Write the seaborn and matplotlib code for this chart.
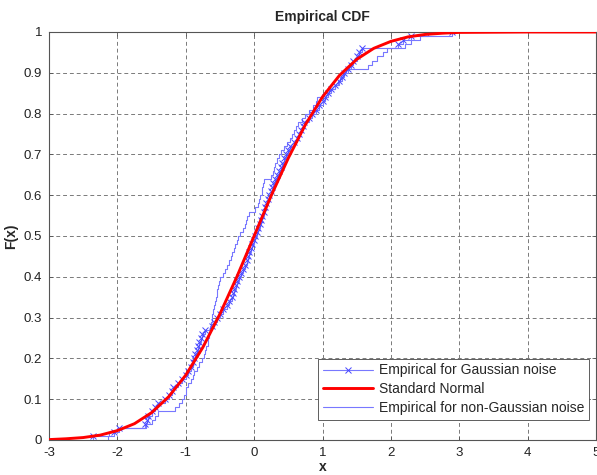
import numpy as np
import pandas as pd
import seaborn as sns
import matplotlib
matplotlib.use("Agg")
import matplotlib.pyplot as plt

# ---- data ----
gaussian_sample = [
    -2.35, -2.05, -1.98, -1.60, -1.57, -1.55, -1.50, -1.45, -1.40, -1.30,
    -1.25, -1.20, -1.18, -1.12, -1.05, -1.00, -0.97, -0.92, -0.90, -0.88,
    -0.86, -0.84, -0.82, -0.80, -0.78, -0.76, -0.72, -0.62, -0.58, -0.55,
    -0.50, -0.45, -0.40, -0.37, -0.33, -0.31, -0.29, -0.27, -0.25, -0.22,
    -0.19, -0.16, -0.13, -0.11, -0.09, -0.07, -0.05, -0.03, 0.00, 0.02,
    0.04, 0.06, 0.08, 0.10, 0.12, 0.14, 0.16, 0.18, 0.20, 0.22,
    0.24, 0.26, 0.28, 0.30, 0.33, 0.36, 0.39, 0.41, 0.44, 0.47,
    0.50, 0.53, 0.58, 0.62, 0.66, 0.69, 0.71, 0.73, 0.80, 0.85,
    0.90, 0.95, 1.00, 1.03, 1.08, 1.12, 1.18, 1.24, 1.28, 1.32,
    1.38, 1.42, 1.45, 1.50, 1.53, 1.58, 2.10, 2.18, 2.30, 2.90,
]

non_gaussian_sample = [
    -2.13, -2.12, -2.00, -1.58, -1.50, -1.45, -1.40, -1.15, -1.10, -1.06,
    -1.03, -1.00, -0.99, -0.96, -0.93, -0.90, -0.88, -0.84, -0.80, -0.76,
    -0.74, -0.72, -0.70, -0.68, -0.67, -0.66, -0.65, -0.64, -0.63, -0.62,
    -0.61, -0.60, -0.58, -0.57, -0.56, -0.55, -0.54, -0.53, -0.52, -0.50,
    -0.46, -0.43, -0.40, -0.37, -0.34, -0.32, -0.30, -0.28, -0.25, -0.23,
    -0.20, -0.17, -0.14, -0.12, -0.10, -0.07, 0.02, 0.05, 0.07, 0.09,
    0.11, 0.12, 0.13, 0.14, 0.25, 0.27, 0.29, 0.31, 0.33, 0.36,
    0.40, 0.44, 0.48, 0.52, 0.55, 0.58, 0.61, 0.64, 0.70, 0.75,
    0.80, 0.86, 0.90, 0.92, 1.00, 1.10, 1.18, 1.22, 1.26, 1.30,
    1.35, 1.66, 1.72, 1.80, 1.88, 1.95, 2.20, 2.30, 2.42, 2.55,
]

normal_x = [-3.0, -2.75, -2.5, -2.25, -2.0, -1.75, -1.5, -1.25, -1.0, -0.75,
            -0.5, -0.25, 0.0, 0.25, 0.5, 0.75, 1.0, 1.25, 1.5, 1.75,
            2.0, 2.25, 2.5, 2.75, 3.0, 4.0, 5.0]
normal_F = [0.001, 0.003, 0.006, 0.012, 0.023, 0.040, 0.067, 0.106, 0.159, 0.227,
            0.309, 0.401, 0.500, 0.599, 0.691, 0.773, 0.841, 0.894, 0.933, 0.960,
            0.977, 0.988, 0.994, 0.997, 0.999, 1.000, 1.000]

x_ticks = [-3, -2, -1, 0, 1, 2, 3, 4, 5]
y_ticks = [0, 0.1, 0.2, 0.3, 0.4, 0.5, 0.6, 0.7, 0.8, 0.9, 1]
y_tick_labels = ["0", "0.1", "0.2", "0.3", "0.4", "0.5", "0.6", "0.7", "0.8", "0.9", "1"]

# ---- plotting ----
sns.set_style("white")
plt.rcParams["font.family"] = ["Liberation Sans", "DejaVu Sans"]

fig = plt.figure(figsize=(5.97, 4.75), dpi=100)
ax = fig.add_axes([49 / 597, 35 / 475, 547 / 597, 408 / 475])

line_blue = "#7878ff"
mark_blue = "#4646ff"

df_g = pd.DataFrame({"x": gaussian_sample})
df_n = pd.DataFrame({"x": non_gaussian_sample})
df_norm = pd.DataFrame({"x": normal_x, "F": normal_F})

sns.ecdfplot(data=df_g, x="x", ax=ax, color=line_blue, lw=0.8,
             marker="x", markersize=5, markeredgecolor=mark_blue,
             markeredgewidth=0.7, label="Empirical for Gaussian noise", zorder=3)
sns.lineplot(data=df_norm, x="x", y="F", ax=ax, color="#ff0000", lw=2.1,
             label="Standard Normal", zorder=4, sort=False)
sns.ecdfplot(data=df_n, x="x", ax=ax, color=line_blue, lw=0.8,
             label="Empirical for non-Gaussian noise", zorder=2)

ax.set_xlim(-3, 5)
ax.set_ylim(0, 1)
ax.set_xticks(x_ticks)
ax.set_xticklabels([str(t) for t in x_ticks])
ax.set_yticks(y_ticks)
ax.set_yticklabels(y_tick_labels)

ax.grid(True, color="#7a7a7a", linestyle=(0, (4, 3)), linewidth=0.7)
ax.set_axisbelow(True)
for s in ax.spines.values():
    s.set_color("#555555")
    s.set_linewidth(0.8)
ax.tick_params(direction="in", length=3, width=0.6, color="#555555",
               labelsize=9.5, labelcolor="#222222", top=True, right=True,
               bottom=True, left=True, pad=5)

ax.set_title("Empirical CDF", fontsize=10, fontweight="bold", pad=8)
ax.set_xlabel("x", fontsize=10, fontweight="bold", labelpad=1)
ax.set_ylabel("F(x)", fontsize=10, fontweight="bold", labelpad=4)

leg = ax.legend(loc="lower right", bbox_to_anchor=(0.987, 0.049),
                fontsize=10, frameon=True, fancybox=False, framealpha=1,
                edgecolor="#444444", borderpad=0.35, labelspacing=0.35,
                handlelength=3.6, handletextpad=0.4, borderaxespad=0)
leg.get_frame().set_linewidth(0.6)

fig.savefig("out.png", dpi=100)
